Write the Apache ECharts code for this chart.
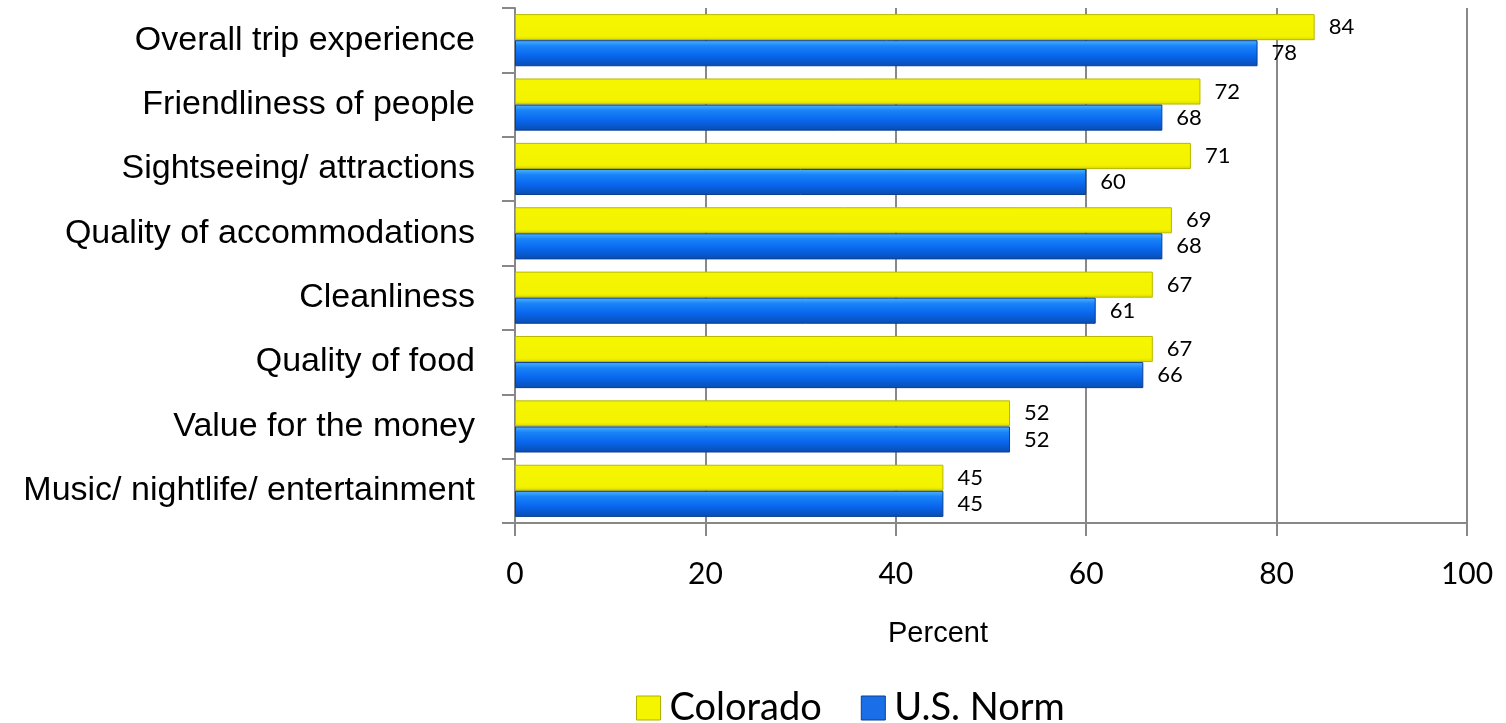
<!DOCTYPE html>
<html>
<head>
<meta charset="utf-8">
<script src="https://cdn.jsdelivr.net/npm/echarts@6/dist/echarts.min.js"></script>
<style>html,body{margin:0;padding:0;background:#fff}#c{width:1506px;height:723px}</style>
</head>
<body>
<div id="c"></div>
<script>
const categories = ["Overall trip experience","Friendliness of people","Sightseeing/ attractions","Quality of accommodations","Cleanliness","Quality of food","Value for the money","Music/ nightlife/ entertainment"];
const colorado = [84,72,71,69,67,67,52,45];
const usNorm = [78,68,60,68,61,66,52,45];
const xTicks = [0,20,40,60,80,100];

const chart = echarts.init(document.getElementById('c'), null, {renderer:'canvas'});
const blueGrad = new echarts.graphic.LinearGradient(0,0,0,1,[
  {offset:0,color:'#4fb4ff'},{offset:0.22,color:'#1a84f8'},{offset:0.6,color:'#0866ee'},{offset:1,color:'#0a4cb0'}]);
const yellowGrad = new echarts.graphic.LinearGradient(0,0,0,1,[
  {offset:0,color:'#f6f600'},{offset:0.85,color:'#f3f300'},{offset:1,color:'#d8d800'}]);
chart.setOption({
  animation:false,
  grid:{left:515,right:39,top:8,bottom:200,containLabel:false,outerBoundsMode:'none'},
  title:{text:'Percent',left:883,top:614,textStyle:{fontFamily:'Liberation Sans',fontSize:29,fontWeight:'normal',color:'#000'}},
  legend:{left:636,top:689,padding:0,itemWidth:24,itemHeight:24,itemGap:39,icon:'rect',
    textStyle:{fontFamily:'Lato',fontSize:38,color:'#000',padding:[0,0,0,4]},
    data:[{name:'Colorado',itemStyle:{color:'#f5f500',borderColor:'#b0b000',borderWidth:1}},
          {name:'U.S. Norm',itemStyle:{color:'#1a6fe8',borderColor:'#0a3f90',borderWidth:1}}]},
  xAxis:{type:'value',min:0,max:100,interval:20,
    axisLine:{show:true,lineStyle:{color:'#888',width:2}},
    axisTick:{show:true,length:13,lineStyle:{color:'#888',width:2}},
    splitLine:{show:true,lineStyle:{color:'#888',width:2}},
    axisLabel:{margin:36,fontFamily:'Lato',fontSize:30,color:'#000',
      formatter:v=>xTicks.includes(v)?String(v):''}},
  yAxis:{type:'category',data:categories,inverse:true,
    axisLine:{show:true,lineStyle:{color:'#888',width:2}},
    axisTick:{show:true,length:13,alignWithLabel:false,lineStyle:{color:'#888',width:2}},
    axisLabel:{margin:40,fontFamily:'Liberation Sans',fontSize:34,color:'#000'}},
  series:[
    {name:'Colorado',type:'bar',data:colorado,barGap:'0%',barCategoryGap:'19%',
      itemStyle:{color:yellowGrad,borderColor:'#b8b800',borderWidth:1},
      label:{show:true,position:'right',distance:14,fontFamily:'Lato',fontSize:22,color:'#000'}},
    {name:'U.S. Norm',type:'bar',data:usNorm,barGap:'0%',barCategoryGap:'19%',
      itemStyle:{color:blueGrad,borderColor:'#0a3f90',borderWidth:1},
      label:{show:true,position:'right',distance:14,fontFamily:'Lato',fontSize:22,color:'#000'}}
  ]
});
</script>
</body>
</html>
